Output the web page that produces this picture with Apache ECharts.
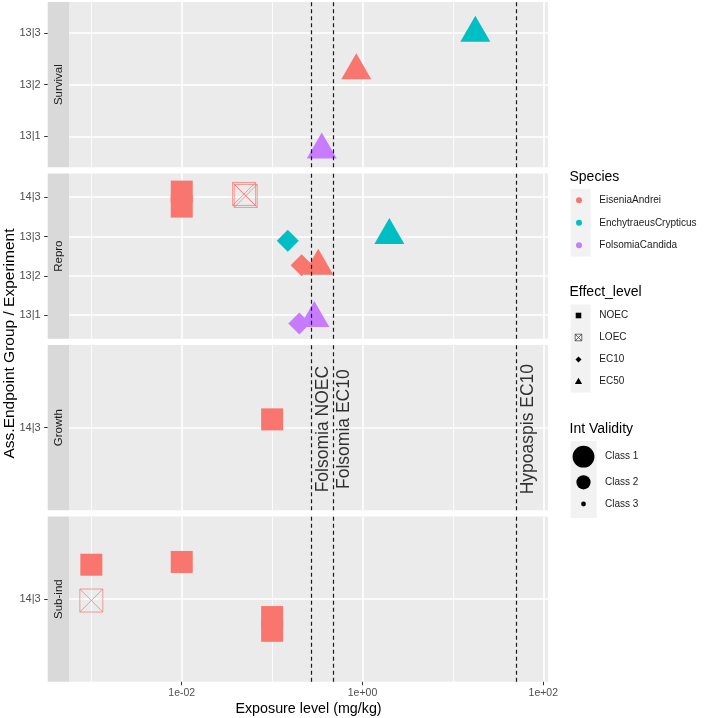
<!DOCTYPE html>
<html><head><meta charset="utf-8">
<script src="https://cdn.jsdelivr.net/npm/echarts@6/dist/echarts.min.js"></script>
<style>html,body{margin:0;padding:0;background:#fff}#c{width:709px;height:718px}</style>
</head><body><div id="c"></div>
<script>
const FONT = '"Liberation Sans", Arial, Helvetica, sans-serif';

// ---------- data ----------
const panels = ['Survival', 'Repro', 'Growth', 'Sub-ind'];
const panelCategories = [
  ['13|1', '13|2', '13|3'],
  ['13|1', '13|2', '13|3', '14|3'],
  ['14|3'],
  ['14|3']
];
const species = ['EiseniaAndrei', 'EnchytraeusCrypticus', 'FolsomiaCandida'];
const speciesColors = ['#F8766D', '#00BFC4', '#C77CFF'];
const effectLevels = ['NOEC', 'LOEC', 'EC10', 'EC50'];
const validityClasses = ['Class 1', 'Class 2', 'Class 3'];

const xTickValues = [1e-2, 1e0, 1e2];
const xMinorValues = [1e-3, 1e-1, 1e1];
const xRange = [5.66e-4, 112.7];

// one entry per point
const ptPanel    = ['Survival','Survival','Survival','Repro','Repro','Repro','Repro','Repro','Repro','Repro','Repro','Repro','Repro','Growth','Sub-ind','Sub-ind','Sub-ind','Sub-ind','Sub-ind'];
const ptGroup    = ['13|3','13|2','13|1','14|3','14|3','14|3','14|3','13|3','13|3','13|2','13|2','13|1','13|1','14|3','14|3','14|3','14|3','14|3','14|3'];
const ptExposure = [17.7, 0.853, 0.354, 0.01, 0.01, 0.049, 0.051, 0.149, 1.98, 0.212, 0.324, 0.2, 0.293, 0.1, 0.001, 0.01, 0.001, 0.1, 0.1];
const ptJitter   = [0, 0.27, -0.26, 0.14, -0.24, 0.08, 0.03, -0.11, 0.03, 0.27, 0.25, -0.21, -0.08, 0.06, 0.25, 0.27, -0.01, -0.13, -0.23];
const ptSpecies  = ['EnchytraeusCrypticus','EiseniaAndrei','FolsomiaCandida','EiseniaAndrei','EiseniaAndrei','EiseniaAndrei','EiseniaAndrei','EnchytraeusCrypticus','EnchytraeusCrypticus','EiseniaAndrei','EiseniaAndrei','FolsomiaCandida','FolsomiaCandida','EiseniaAndrei','EiseniaAndrei','EiseniaAndrei','EiseniaAndrei','EiseniaAndrei','EiseniaAndrei'];
const ptEffect   = ['EC50','EC50','EC50','NOEC','NOEC','LOEC','LOEC','EC10','EC50','EC10','EC50','EC10','EC50','NOEC','NOEC','NOEC','LOEC','NOEC','NOEC'];
const ptValidity = ['Class 1','Class 1','Class 1','Class 1','Class 1','Class 1','Class 1','Class 1','Class 1','Class 1','Class 1','Class 1','Class 1','Class 1','Class 1','Class 1','Class 1','Class 1','Class 1'];

const refNames  = ['Folsomia NOEC', 'Folsomia EC10', 'Hypoaspis EC10'];
const refValues = [0.272, 0.472, 50.8];
const refLabelPanel = 'Growth';

// ---------- layout / style ----------
const gridLeft = 69, gridWidth = 479, gridHeight = 165.3;
const gridTops = [2, 173.5, 345, 516.5];
const stripWidth = 21.3;
const classScale = {'Class 1': 1, 'Class 2': 0.65, 'Class 3': 0.22};
const LOEC_PATH = 'path://M0,0H20V20H0ZM0,0L20,20M20,0L0,20';

function symbolProps(effect, cls, color) {
  const k = classScale[cls];
  if (effect === 'NOEC') return {symbol: 'rect', symbolSize: [22 * k, 22 * k], itemStyle: {color: color, opacity: 1}};
  if (effect === 'LOEC') return {symbol: LOEC_PATH, symbolSize: [23 * k, 23 * k],
    itemStyle: {color: 'rgba(0,0,0,0)', borderColor: color, borderWidth: 0.9, opacity: 0.8}};
  if (effect === 'EC10') return {symbol: 'diamond', symbolSize: [22 * k, 22 * k], itemStyle: {color: color, opacity: 1}};
  return {symbol: 'triangle', symbolSize: [30 * k, 26 * k], symbolOffset: [0, -4.33 * k], itemStyle: {color: color, opacity: 1}};
}

function fmtExp(v) {
  const e = Math.round(Math.log10(v));
  return '1e' + (e < 0 ? '-' : '+') + String(Math.abs(e)).padStart(2, '0');
}

const grids = [], xAxes = [], yAxes = [], series = [], graphics = [];

panels.forEach((p, i) => {
  const cats = panelCategories[i];
  const isBottom = i === panels.length - 1;
  grids.push({left: gridLeft, top: gridTops[i], width: gridWidth, height: gridHeight,
    show: true, backgroundColor: '#EBEBEB', borderWidth: 0, containLabel: false});
  // major x axis
  xAxes.push({type: 'log', logBase: 10, gridIndex: i, min: xRange[0], max: xRange[1], position: 'bottom',
    axisLine: {show: false, onZero: false},
    axisTick: {show: isBottom, customValues: xTickValues, length: 3.5, lineStyle: {color: '#333', width: 1}},
    axisLabel: {show: isBottom, customValues: xTickValues, formatter: fmtExp, margin: 6,
      color: '#4D4D4D', fontSize: 10.5, fontFamily: FONT},
    splitLine: {show: true, lineStyle: {color: '#FFFFFF', width: 1.6}}
  });
  // minor x axis (grid lines only)
  xAxes.push({type: 'log', logBase: 10, gridIndex: i, min: xRange[0], max: xRange[1], position: 'bottom',
    axisLine: {show: false, onZero: false},
    axisTick: {show: false, customValues: xMinorValues},
    axisLabel: {show: false, customValues: xMinorValues},
    splitLine: {show: true, lineStyle: {color: '#FFFFFF', width: 0.8}}
  });
  const idx = cats.map((c, j) => j);
  yAxes.push({type: 'value', gridIndex: i, min: -0.6, max: cats.length - 1 + 0.6, offset: stripWidth, position: 'left',
    axisLine: {show: false, onZero: false},
    axisTick: {show: true, customValues: idx, length: 3.5, lineStyle: {color: '#333', width: 1}},
    axisLabel: {customValues: idx, formatter: v => cats[Math.round(v)], margin: 7,
      color: '#4D4D4D', fontSize: 11, fontFamily: FONT},
    splitLine: {show: true, lineStyle: {color: '#FFFFFF', width: 1.6}}
  });

  // points of this panel
  const data = [];
  ptPanel.forEach((pp, k) => {
    if (pp !== p) return;
    const color = speciesColors[species.indexOf(ptSpecies[k])];
    const item = Object.assign({value: [ptExposure[k], cats.indexOf(ptGroup[k]) + ptJitter[k]]},
      symbolProps(ptEffect[k], ptValidity[k], color));
    data.push(item);
  });
  series.push({type: 'scatter', xAxisIndex: 2 * i, yAxisIndex: i, data: data, z: 3, silent: true,
    itemStyle: {opacity: 1},
    markLine: {silent: true, symbol: ['none', 'none'], z: 5, label: {show: false},
      lineStyle: {type: [4, 3], color: '#1A1A1A', width: 1.2},
      data: refValues.map(v => ({xAxis: v}))}
  });
  if (p === refLabelPanel) {
    series.push({type: 'scatter', xAxisIndex: 2 * i, yAxisIndex: i, silent: true, z: 6,
      symbol: 'circle', symbolSize: 1, itemStyle: {color: 'rgba(0,0,0,0)'},
      data: refValues.map(v => [v, 0]),
      label: {show: true, formatter: q => refNames[q.dataIndex], rotate: 90, position: 'inside', offset: [-1.5, 2.5],
        align: 'center', verticalAlign: 'top', fontSize: 17.5, color: '#000', fontFamily: FONT}
    });
  }

  // facet strip
  graphics.push({type: 'rect', shape: {x: gridLeft - stripWidth, y: gridTops[i], width: stripWidth, height: gridHeight},
    style: {fill: '#D9D9D9'}, silent: true});
  graphics.push({type: 'text', x: gridLeft - stripWidth / 2, y: gridTops[i] + gridHeight / 2, rotation: Math.PI / 2,
    style: {text: p, fill: '#1A1A1A', fontSize: 11.5, fontFamily: FONT, align: 'center', verticalAlign: 'middle'}, silent: true});
});

// axis titles
graphics.push({type: 'text', x: gridLeft + gridWidth / 2, y: 709, silent: true,
  style: {text: 'Exposure level (mg/kg)', fill: '#000', fontSize: 14.3, fontFamily: FONT, align: 'center', verticalAlign: 'middle'}});
graphics.push({type: 'text', x: 10, y: 343.5, rotation: Math.PI / 2, silent: true,
  style: {text: 'Ass.Endpoint Group / Experiment', fill: '#000', fontSize: 15.5, fontFamily: FONT, align: 'center', verticalAlign: 'middle'}});

// legends
const LX = 569.5, keyX = 570.7, symX = 578.5, labX = 599.3;
function title(t, y) {
  graphics.push({type: 'text', x: LX, y: y, silent: true,
    style: {text: t, fill: '#000', fontSize: 14, fontFamily: FONT, align: 'left', verticalAlign: 'middle'}});
}
function label(t, x, y) {
  graphics.push({type: 'text', x: x, y: y, silent: true,
    style: {text: t, fill: '#1A1A1A', fontSize: 10, fontFamily: FONT, align: 'left', verticalAlign: 'middle'}});
}
// Species
title('Species', 177);
graphics.push({type: 'rect', shape: {x: keyX, y: 189, width: 20, height: 67.5}, style: {fill: '#F2F2F2'}, silent: true});
species.forEach((s, j) => {
  const y = 189 + 22.5 * (j + 0.5);
  graphics.push({type: 'circle', shape: {cx: symX + 0.5, cy: y, r: 3}, style: {fill: speciesColors[j]}, silent: true});
  label(s, labX, y);
});
// Effect level
title('Effect_level', 291.7);
graphics.push({type: 'rect', shape: {x: keyX, y: 304.5, width: 20, height: 88}, style: {fill: '#F2F2F2'}, silent: true});
effectLevels.forEach((e, j) => {
  const y = 304.5 + 22 * (j + 0.5);
  const s = 2.8;
  if (e === 'NOEC') graphics.push({type: 'rect', shape: {x: symX - s, y: y - s, width: 2 * s, height: 2 * s}, style: {fill: '#000'}, silent: true});
  else if (e === 'LOEC') {
    graphics.push({type: 'rect', shape: {x: symX - s - 0.5, y: y - s - 0.5, width: 2 * s + 1, height: 2 * s + 1}, style: {fill: 'none', stroke: '#333', lineWidth: 0.7}, silent: true});
    graphics.push({type: 'polyline', shape: {points: [[symX - s - 0.5, y - s - 0.5], [symX + s + 0.5, y + s + 0.5]]}, style: {stroke: '#333', lineWidth: 0.7}, silent: true});
    graphics.push({type: 'polyline', shape: {points: [[symX + s + 0.5, y - s - 0.5], [symX - s - 0.5, y + s + 0.5]]}, style: {stroke: '#333', lineWidth: 0.7}, silent: true});
  }
  else if (e === 'EC10') graphics.push({type: 'polygon', shape: {points: [[symX, y - 3], [symX + 3, y], [symX, y + 3], [symX - 3, y]]}, style: {fill: '#000'}, silent: true});
  else graphics.push({type: 'polygon', shape: {points: [[symX, y - 3.8], [symX + 3.6, y + 2.4], [symX - 3.6, y + 2.4]]}, style: {fill: '#000'}, silent: true});
  label(e, labX, y);
});
// Int Validity
title('Int Validity', 429.3);
graphics.push({type: 'rect', shape: {x: keyX, y: 441, width: 26, height: 77}, style: {fill: '#F2F2F2'}, silent: true});
const valY = [456.7, 482.3, 504];
validityClasses.forEach((c, j) => {
  graphics.push({type: 'circle', shape: {cx: 583.5, cy: valY[j], r: 10.9 * classScale[c]}, style: {fill: '#000'}, silent: true});
  label(c, 605, valY[j]);
});

const chart = echarts.init(document.getElementById('c'), null, {renderer: 'canvas'});
chart.setOption({
  animation: false,
  backgroundColor: '#FFFFFF',
  textStyle: {fontFamily: FONT},
  grid: grids, xAxis: xAxes, yAxis: yAxes, series: series, graphic: graphics
});
</script></body></html>
